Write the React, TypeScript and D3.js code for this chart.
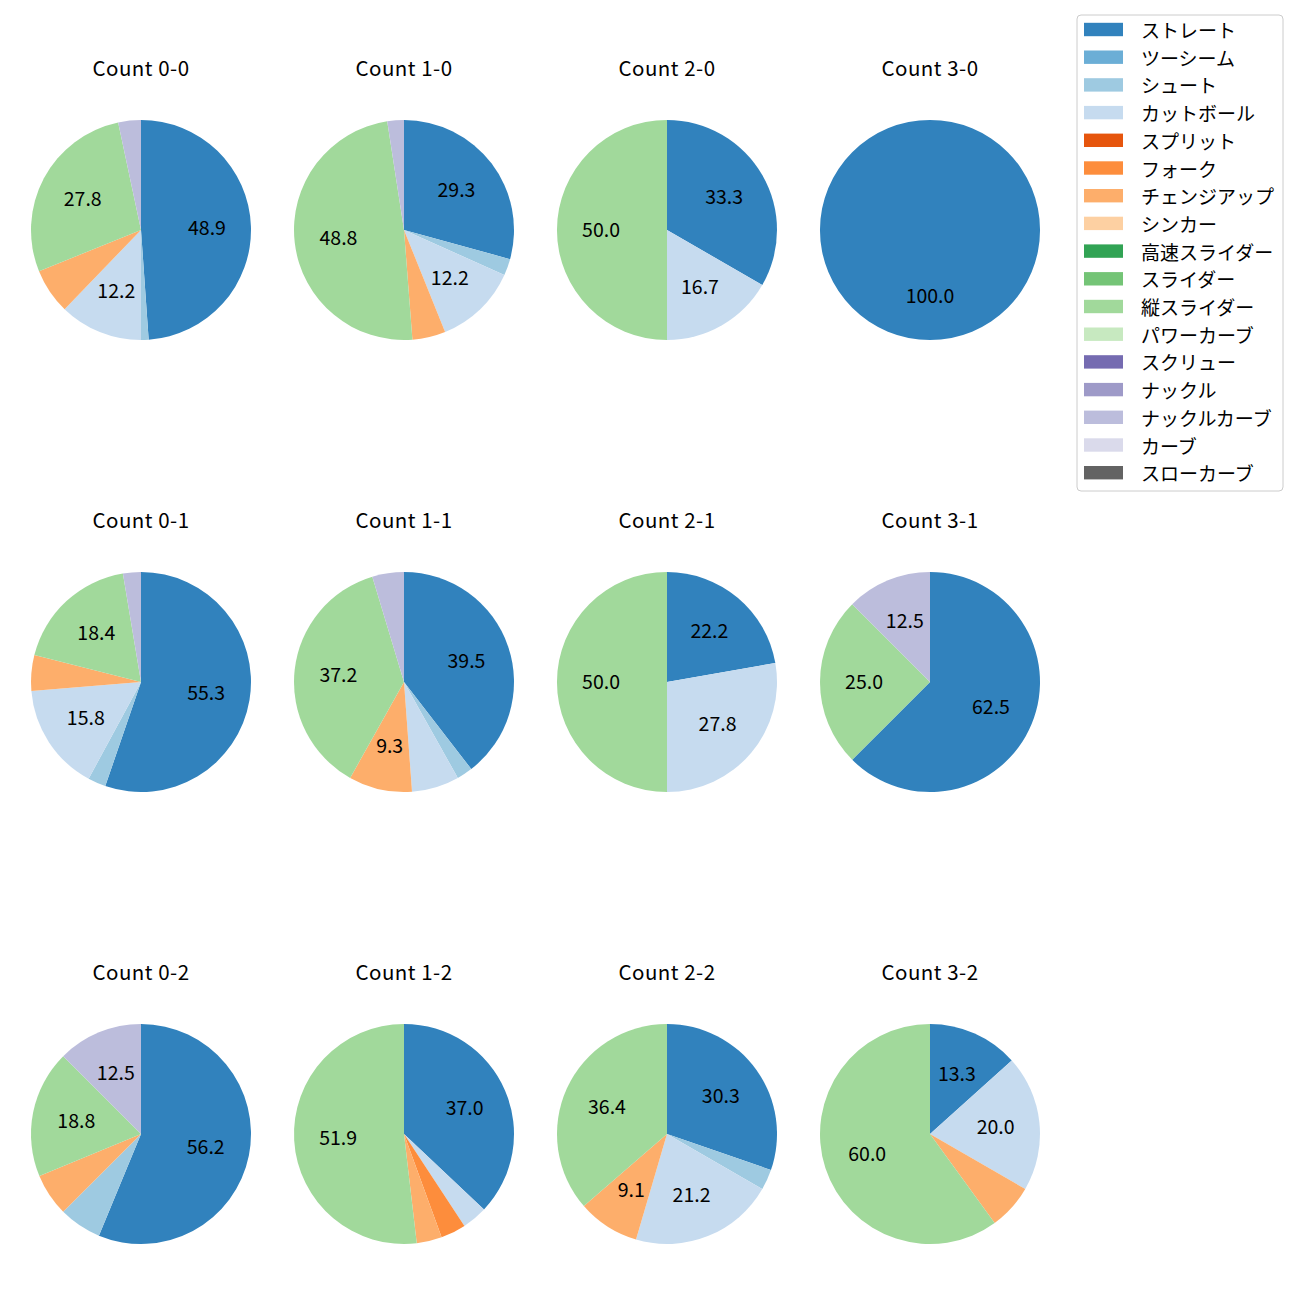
import React from "react";
import * as d3 from "d3";

const pitchTypes = [
  "ストレート", "ツーシーム", "シュート", "カットボール", "スプリット", "フォーク",
  "チェンジアップ", "シンカー", "高速スライダー", "スライダー", "縦スライダー",
  "パワーカーブ", "スクリュー", "ナックル", "ナックルカーブ", "カーブ", "スローカーブ",
];

const pitchColors = [
  "#3182bd", "#6baed6", "#9ecae1", "#c6dbef", "#e6550d", "#fd8d3c", "#fdae6b",
  "#fdd0a2", "#31a354", "#74c476", "#a1d99b", "#c7e9c0", "#756bb1", "#9e9ac8",
  "#bcbddc", "#dadaeb", "#636363",
];

const countLabels = [
  "Count 0-0", "Count 1-0", "Count 2-0", "Count 3-0",
  "Count 0-1", "Count 1-1", "Count 2-1", "Count 3-1",
  "Count 0-2", "Count 1-2", "Count 2-2", "Count 3-2",
];

// pitch counts per type, in pitchTypes order
const count00 = [44, 0, 1, 11, 0, 0, 6, 0, 0, 0, 25, 0, 0, 0, 3, 0, 0];
const count10 = [12, 0, 1, 5, 0, 0, 2, 0, 0, 0, 20, 0, 0, 0, 1, 0, 0];
const count20 = [2, 0, 0, 1, 0, 0, 0, 0, 0, 0, 3, 0, 0, 0, 0, 0, 0];
const count30 = [1, 0, 0, 0, 0, 0, 0, 0, 0, 0, 0, 0, 0, 0, 0, 0, 0];
const count01 = [21, 0, 1, 6, 0, 0, 2, 0, 0, 0, 7, 0, 0, 0, 1, 0, 0];
const count11 = [17, 0, 1, 3, 0, 0, 4, 0, 0, 0, 16, 0, 0, 0, 2, 0, 0];
const count21 = [4, 0, 0, 5, 0, 0, 0, 0, 0, 0, 9, 0, 0, 0, 0, 0, 0];
const count31 = [5, 0, 0, 0, 0, 0, 0, 0, 0, 0, 2, 0, 0, 0, 1, 0, 0];
const count02 = [9, 0, 1, 0, 0, 0, 1, 0, 0, 0, 3, 0, 0, 0, 2, 0, 0];
const count12 = [10, 0, 0, 1, 0, 1, 1, 0, 0, 0, 14, 0, 0, 0, 0, 0, 0];
const count22 = [10, 0, 1, 7, 0, 0, 3, 0, 0, 0, 12, 0, 0, 0, 0, 0, 0];
const count32 = [2, 0, 0, 3, 0, 0, 1, 0, 0, 0, 9, 0, 0, 0, 0, 0, 0];

const allCounts = [
  count00, count10, count20, count30,
  count01, count11, count21, count31,
  count02, count12, count22, count32,
];

const FONT = "'Noto Sans CJK JP', 'Noto Sans', sans-serif";

// Python-style "%.1f" (round half to even on exact halves)
function fmt1(p: number): string {
  const v = p * 10;
  const fl = Math.floor(v);
  const diff = v - fl;
  let r: number;
  if (Math.abs(diff - 0.5) < 1e-9) r = fl % 2 === 0 ? fl : fl + 1;
  else r = Math.round(v);
  return (r / 10).toFixed(1);
}

export default function App() {
  const colX = [141, 404, 667, 930];
  const rowY = [230, 682, 1134];
  const r = 110;
  const pie = d3.pie<number>().sort(null).value((d) => d);
  const arc = d3.arc<d3.PieArcDatum<number>>().innerRadius(0).outerRadius(r);
  const labelArc = d3.arc<d3.PieArcDatum<number>>().innerRadius(r * 0.6).outerRadius(r * 0.6);

  const legendX = 1077;
  const legendY = 15;
  const rowH = 27.7;

  return (
    <div style={{ position: "absolute", left: 0, top: 0 }}>
      <svg width={1300} height={1300} style={{ display: "block", background: "#fff" }} fontFamily={FONT}>
        {allCounts.map((vals, i) => {
          const cx = colX[i % 4];
          const cy = rowY[Math.floor(i / 4)];
          const total = d3.sum(vals);
          const arcs = pie(vals);
          return (
            <g key={i}>
              <text x={cx} y={cy - 154} textAnchor="middle" fontSize={20.5} letterSpacing={0.5} fill="#000">
                {countLabels[i]}
              </text>
              <g transform={`translate(${cx},${cy})`}>
                {arcs.map((a, j) =>
                  a.value > 0 ? <path key={j} d={arc(a) || ""} fill={pitchColors[j]} /> : null
                )}
                {arcs.map((a, j) => {
                  const pct = (a.value / total) * 100;
                  if (pct < 8) return null;
                  const [lx, ly] = labelArc.centroid(a);
                  return (
                    <text key={"t" + j} x={lx} y={ly - 1.5} textAnchor="middle" dominantBaseline="central" fontSize={19.5} fill="#000">
                      {fmt1(pct)}
                    </text>
                  );
                })}
              </g>
            </g>
          );
        })}
        <rect x={legendX} y={legendY} width={206} height={476} rx={4} ry={4} fill="#fff" fillOpacity={0.8} stroke="#cccccc" strokeWidth={1} />
        {pitchTypes.map((name, k) => {
          const y = 29.5 + k * rowH;
          return (
            <g key={k}>
              <rect x={1084} y={y - 6.7} width={39} height={13.4} fill={pitchColors[k]} />
              <text x={1141} y={y} dominantBaseline="central" fontSize={19} fill="#000">
                {name}
              </text>
            </g>
          );
        })}
      </svg>
    </div>
  );
}
